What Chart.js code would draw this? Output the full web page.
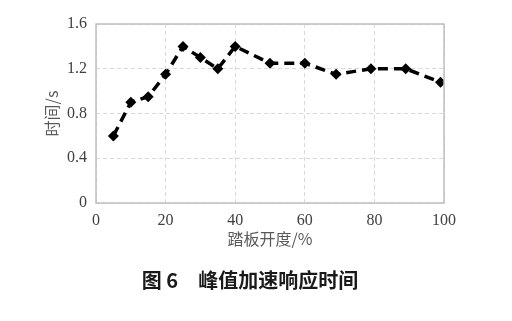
<!DOCTYPE html>
<html>
<head>
<meta charset="utf-8">
<script src="https://cdn.jsdelivr.net/npm/chart.js@4"></script>
<style>
  html, body { margin: 0; padding: 0; background: #fff; }
  #wrap { width: 512px; height: 321px; }
</style>
</head>
<body>
<div id="wrap"><canvas id="chart" width="512" height="321"></canvas></div>
<script>
// data
const pedalOpening = [5, 10, 15, 20, 25, 30, 35, 40, 50, 60, 69, 79, 89, 99];
const responseTime = [0.6, 0.9, 0.95, 1.15, 1.4, 1.3, 1.2, 1.4, 1.25, 1.25, 1.15, 1.2, 1.2, 1.08];
const xTicks = [0, 20, 40, 60, 80, 100];
const yTicks = [0, 0.4, 0.8, 1.2, 1.6];
const xTitle = "踏板开度/%";
const yTitle = "时间/s";
const caption = "图 6　峰值加速响应时间";

const serif = "'Liberation Serif', 'DejaVu Serif', serif";
const cjk = "'Noto Sans CJK SC', sans-serif";

// solid frame round the plot + caption underneath
const framePlugin = {
  id: "frame",
  afterDraw(chart) {
    const { ctx, chartArea: a } = chart;
    ctx.save();
    ctx.strokeStyle = "#bfbfbf";
    ctx.lineWidth = 1.5;
    ctx.setLineDash([]);
    ctx.strokeRect(a.left, a.top, a.right - a.left, a.bottom - a.top);
    ctx.fillStyle = "#1a1a1a";
    ctx.font = "bold 20px " + cjk;
    ctx.textAlign = "center";
    ctx.textBaseline = "middle";
    ctx.fillText(caption, 250, 280);
    ctx.restore();
  }
};

new Chart(document.getElementById("chart"), {
  type: "line",
  data: {
    datasets: [{
      data: pedalOpening.map((x, i) => ({ x: x, y: responseTime[i] })),
      borderColor: "#000",
      backgroundColor: "#000",
      borderWidth: 3.5,
      borderDash: [10, 6],
      pointStyle: "rectRot",
      pointRadius: 5.5,
      pointBorderWidth: 0,
      tension: 0
    }]
  },
  options: {
    responsive: false,
    animation: false,
    layout: { padding: { top: 24, right: 68, left: 38, bottom: 68 } },
    plugins: { legend: { display: false }, tooltip: { enabled: false } },
    scales: {
      x: {
        type: "linear",
        min: 0, max: 100,
        afterBuildTicks: s => { s.ticks = xTicks.map(v => ({ value: v })); },
        afterFit: s => { s.height = 50; },
        grid: { color: "#d9d9d9", lineWidth: 1, drawTicks: false },
        border: { display: false, dash: [4, 3] },
        ticks: { color: "#404040", font: { family: serif, size: 16 }, padding: 8 },
        title: { display: true, text: xTitle, color: "#595959", font: { family: cjk, size: 16 }, padding: { top: 5 } }
      },
      y: {
        min: 0, max: 1.6,
        afterBuildTicks: s => { s.ticks = yTicks.map(v => ({ value: v })); },
        afterFit: s => { s.width = 58; },
        grid: { color: "#d9d9d9", lineWidth: 1, drawTicks: false },
        border: { display: false, dash: [4, 3] },
        ticks: { color: "#404040", font: { family: serif, size: 16 }, padding: 9,
                 callback: v => String(+v.toFixed(1)) },
        title: { display: true, text: yTitle, color: "#595959", font: { family: cjk, size: 16 }, padding: { top: 4, bottom: 4 } }
      }
    }
  },
  plugins: [framePlugin]
});
</script>
</body>
</html>
